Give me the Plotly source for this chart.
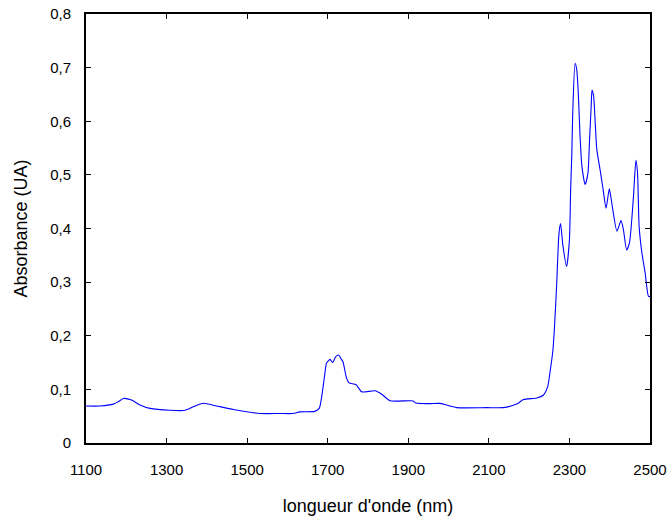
import plotly.graph_objects as go

# wavelength (nm) and absorbance (UA)
wavelength = [1100, 1135, 1168, 1180, 1193, 1213, 1234, 1259, 1308, 1346, 1366, 1391, 1424, 1466,
              1532, 1581, 1614, 1631, 1668, 1679, 1685, 1692, 1697, 1706, 1712, 1720, 1727, 1734,
              1738, 1747, 1753, 1770, 1784, 1796, 1817, 1834, 1855, 1912, 1919, 1954, 1979, 2020,
              2095, 2136, 2169, 2186, 2219, 2235, 2246, 2252, 2259, 2263, 2268, 2274, 2278, 2284,
              2293, 2300, 2303, 2306, 2308, 2314, 2318, 2322, 2326, 2331, 2339, 2346, 2350, 2354,
              2356, 2360, 2364, 2368, 2376, 2383, 2391, 2399, 2405, 2418, 2428, 2434, 2442, 2449,
              2459, 2465, 2469, 2473, 2480, 2488, 2496, 2500]
absorbance = [0.069, 0.069, 0.0725, 0.077, 0.083, 0.080, 0.071, 0.0645, 0.061, 0.061, 0.0675, 0.074,
              0.069, 0.0626, 0.055, 0.055, 0.055, 0.058, 0.059, 0.0645, 0.086, 0.124, 0.1486, 0.156,
              0.150, 0.161, 0.164, 0.156, 0.151, 0.1205, 0.112, 0.109, 0.0955, 0.0955, 0.0974, 0.091,
              0.0787, 0.0785, 0.0744, 0.0735, 0.0738, 0.066, 0.066, 0.066, 0.0725, 0.081, 0.084,
              0.089, 0.105, 0.133, 0.173, 0.217, 0.29, 0.39, 0.409, 0.367, 0.329, 0.379, 0.4725,
              0.541, 0.61, 0.708, 0.697, 0.653, 0.5785, 0.516, 0.482, 0.504, 0.566, 0.628, 0.658,
              0.647, 0.597, 0.547, 0.51, 0.476, 0.438, 0.474, 0.448, 0.395, 0.4146, 0.398, 0.360,
              0.373, 0.46, 0.527, 0.504, 0.404, 0.354, 0.317, 0.274, 0.273]

x_ticks = [1100, 1300, 1500, 1700, 1900, 2100, 2300, 2500]
y_ticks = [0, 0.1, 0.2, 0.3, 0.4, 0.5, 0.6, 0.7, 0.8]
y_ticktext = ['0', '0,1', '0,2', '0,3', '0,4', '0,5', '0,6', '0,7', '0,8']

spectrum = go.Scatter(x=wavelength, y=absorbance, mode='lines',
                      line=dict(color='#0000ff', width=1.1, shape='spline', smoothing=0.6),
                      showlegend=False, hoverinfo='x+y')

axis_style = dict(showline=True, linewidth=2, linecolor='black', mirror='ticks',
                  ticks='inside', ticklen=5, tickwidth=1, tickcolor='black',
                  showgrid=False, zeroline=False, automargin=False)

layout = go.Layout(width=667, height=518, autosize=False,
                   margin=dict(l=86, r=17, t=14, b=75),
                   paper_bgcolor='white', plot_bgcolor='white',
                   font=dict(family='Liberation Sans, Arial, sans-serif', size=15, color='black'),
                   xaxis=dict(range=[1100, 2500], tickvals=x_ticks, ticklabelstandoff=12,
                              title=dict(text="longueur d'onde (nm)", standoff=22), **axis_style),
                   yaxis=dict(range=[0, 0.8], tickvals=y_ticks, ticktext=y_ticktext,
                              ticklabelstandoff=10,
                              title=dict(text='Absorbance (UA)', standoff=18), **axis_style))

fig = go.Figure(data=[spectrum], layout=layout)
# drop the default page margin so the figure sits at the window's corner
fig.write_html("out.html", config={'displayModeBar': False},
               post_script="document.body.style.margin='0px';")
